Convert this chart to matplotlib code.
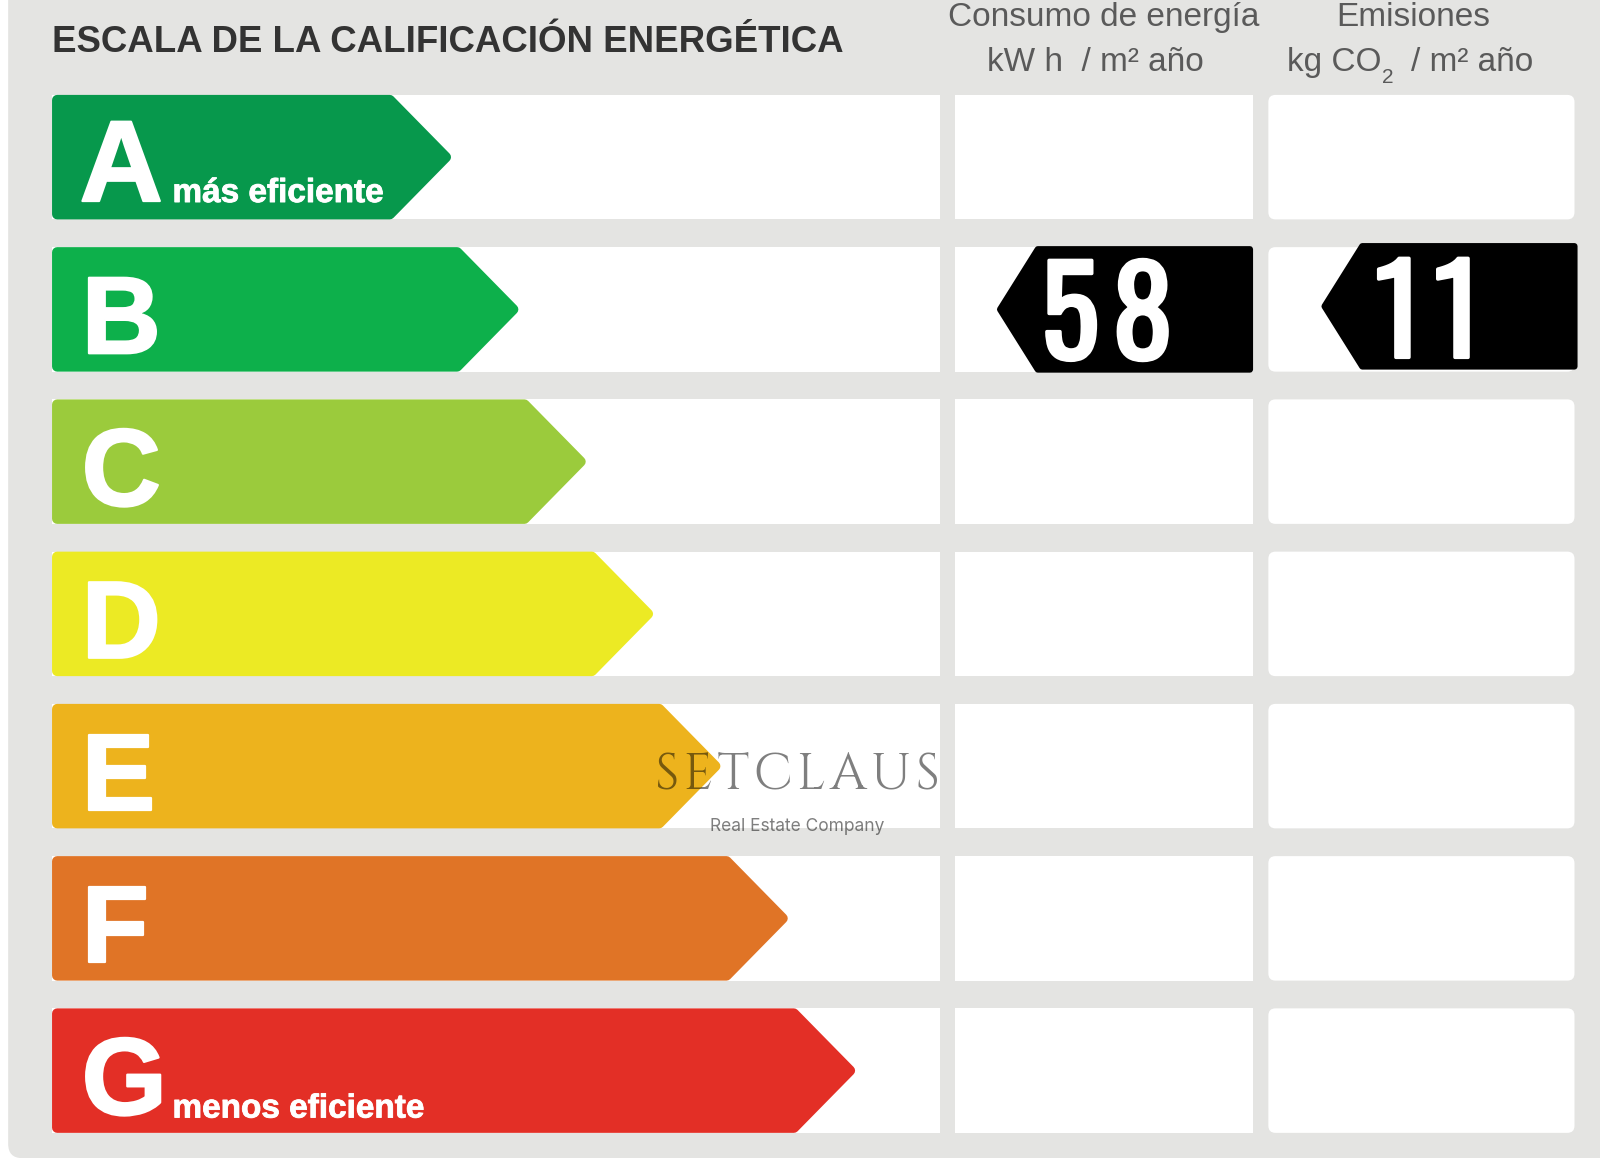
import matplotlib
matplotlib.use('Agg')
import matplotlib.pyplot as plt
from matplotlib.patches import Polygon, Rectangle, FancyBboxPatch
from matplotlib import patheffects

# ================================
# Data
# ================================
categories = ['A', 'B', 'C', 'D', 'E', 'F', 'G']
class_notes = {'A': 'más eficiente', 'G': 'menos eficiente'}
arrow_ends = [442, 508, 574, 640, 706, 772, 838]
arrow_colors = ['#07984c', '#0db04b', '#9bcb3c', '#ecea24', '#edb31d', '#e07426', '#e32f26']
consumo_value = 58
emisiones_value = 11
rated_class = 'B'

# reference was measured on a 1568 wide view
K = 1600 / 1568
DPI = 100

plt.rcParams['font.family'] = ['Liberation Sans', 'DejaVu Sans']

fig = plt.figure(figsize=(16, 11.58), dpi=DPI)
ax = fig.add_axes([0, 0, 1, 1])
ax.set_xlim(0, 1568)
ax.set_ylim(1158 / K, 0)
ax.axis('off')

PANEL = '#e4e4e2'
ROW_TOP = 93
ROW_H = 122
ROW_STEP = 149.2


def arrow(x0, x1, top, bottom, color, head=60, left=False, corner=10):
    # polygon is inset and stroked with round joins to get soft corners
    pad = corner / 2
    mid = (top + bottom) / 2
    t, b = top + pad, bottom - pad
    if left:
        pts = [(x1 - pad, t), (x0 + head, t), (x0 + pad, mid), (x0 + head, b), (x1 - pad, b)]
    else:
        pts = [(x0 + pad, t), (x1 - head, t), (x1 - pad, mid), (x1 - head, b), (x0 + pad, b)]
    ax.add_patch(Polygon(pts, closed=True, facecolor=color, edgecolor=color,
                         linewidth=corner * K * 72 / DPI, joinstyle='round', zorder=3))


# ================================
# Background panel and white cells
# ================================
ax.add_patch(FancyBboxPatch((8, -40), 1600, 1175, boxstyle='round,pad=0,rounding_size=14',
                            facecolor=PANEL, edgecolor='none', zorder=0))

for i, cat in enumerate(categories):
    top = ROW_TOP + i * ROW_STEP
    ax.add_patch(Rectangle((51, top), 870, ROW_H, facecolor='white', edgecolor='none', zorder=1))
    ax.add_patch(Rectangle((936, top), 292, ROW_H, facecolor='white', edgecolor='none', zorder=1))
    ax.add_patch(FancyBboxPatch((1243, top), 300, ROW_H, boxstyle='round,pad=0,rounding_size=7',
                                facecolor='white', edgecolor='none', zorder=1))

# ================================
# Class arrows
# ================================
heavy = [patheffects.withStroke(linewidth=1.6, foreground='white')]
light = [patheffects.withStroke(linewidth=0.6, foreground='white')]
for i, cat in enumerate(categories):
    top = ROW_TOP + i * ROW_STEP
    bottom = top + ROW_H
    arrow(51, arrow_ends[i], top, bottom, arrow_colors[i])
    ax.text(78 if cat == 'A' else 80, bottom - 18, cat, color='white', fontsize=83 if cat == 'A' else 79,
            fontweight='bold', ha='left', va='baseline', zorder=4, path_effects=heavy)
    if cat in class_notes:
        drop = 17 if cat == 'A' else 15
        ax.text(169, bottom - drop, class_notes[cat], color='white', fontsize=24, fontweight='bold',
                ha='left', va='baseline', zorder=4, path_effects=light)

# ================================
# Rating tags
# ================================
row = categories.index(rated_class)
top = ROW_TOP + row * ROW_STEP
num_font = ['Oswald', 'Roboto Condensed', 'Liberation Sans']
num_stroke = [patheffects.withStroke(linewidth=2.5, foreground='white')]
arrow(977, 1228, top - 1, top + ROW_H + 1, 'black', head=40, left=True, corner=6)
arrow(1295, 1546, top - 4, top + ROW_H - 2, 'black', head=40, left=True, corner=6)
# digits sit a bit wider apart in the reference
ax.text(1085, top + 110, '\u200a'.join(str(consumo_value)), color='white', fontsize=88,
        family=num_font, ha='center', va='baseline', zorder=4, path_effects=num_stroke)
ax.text(1399, top + 108, '\u200a'.join(str(emisiones_value)), color='white', fontsize=88,
        family=num_font, ha='center', va='baseline', zorder=4, path_effects=num_stroke)

# ================================
# Headers
# ================================
ax.text(51, 51, 'ESCALA DE LA CALIFICACIÓN ENERGÉTICA', color='#333333', fontsize=26.4,
        fontweight='bold', ha='left', va='baseline', zorder=4)
HEAD = '#5a5a5a'
ax.text(1082, 25, 'Consumo de energía', color=HEAD, fontsize=24, ha='center', va='baseline')
ax.text(1385, 25, 'Emisiones', color=HEAD, fontsize=24, ha='center', va='baseline')
ax.text(1073, 70, 'kW h  / m² año', color=HEAD, fontsize=24, ha='center', va='baseline')
ax.text(1261, 70, 'kg CO', color=HEAD, fontsize=24, ha='left', va='baseline')
ax.text(1354, 81, '2', color=HEAD, fontsize=15, ha='left', va='baseline')
ax.text(1383, 70, '/ m² año', color=HEAD, fontsize=24, ha='left', va='baseline')

# ================================
# Watermark
# ================================
ax.text(781, 773, 'S\u200aE\u200aT\u200aC\u200aL\u200aA\u200aU\u200aS', color='black', alpha=0.5, fontsize=37,
        family=['Cinzel', 'Liberation Serif', 'DejaVu Serif'], ha='center', va='baseline', zorder=5)
ax.text(781, 814, 'Real Estate Company', color='black', alpha=0.5, fontsize=12.5, family='Inter',
        ha='center', va='baseline', zorder=5)

plt.savefig('out.png', dpi=DPI)
